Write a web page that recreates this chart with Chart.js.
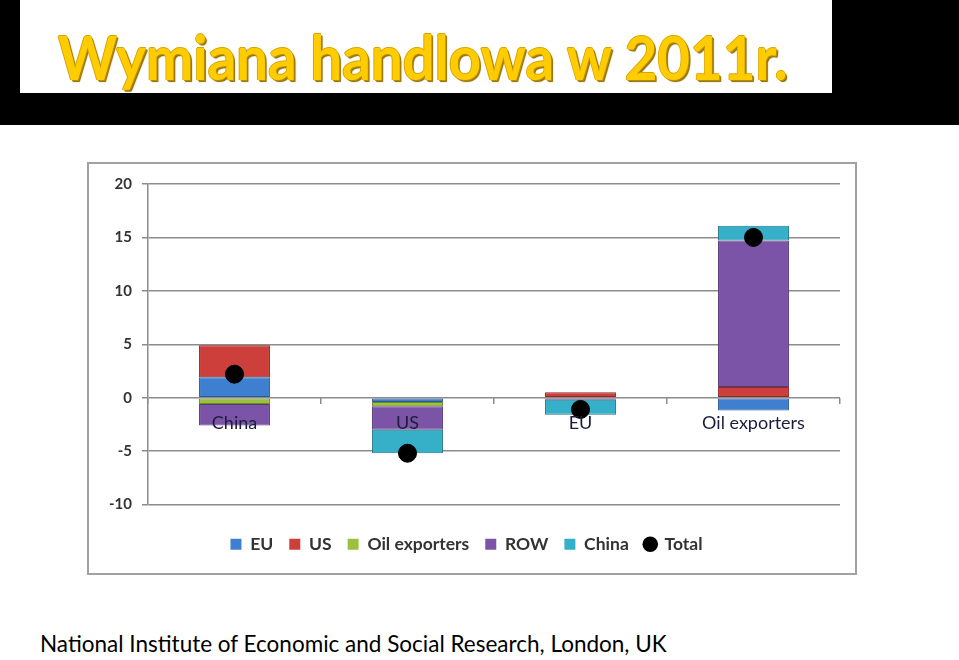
<!DOCTYPE html>
<html>
<head>
<meta charset="utf-8">
<script src="https://cdn.jsdelivr.net/npm/chart.js@4"></script>
<style>
    body { margin: 0; width: 959px; height: 660px; background: #fff; position: relative; overflow: hidden; font-family: Lato, "Open Sans", sans-serif; }
    #band { position: absolute; left: 0; top: 0; width: 959px; height: 125px; background: #000; }
    #titleBox { position: absolute; left: 20px; top: 0; width: 812px; height: 93px; background: #fff; }
    #title { position: absolute; left: 38px; top: 20px; font-family: Lato, sans-serif; font-weight: 700; font-size: 61px; color: #FFCC00; white-space: nowrap;
        transform: scaleX(0.925); transform-origin: left top;
        text-shadow: 1px 1px 0 #B88A00, -1px 0 0 #D9A400, 0 -1px 0 #D9A400, 2px 2px 1px #8a6a00; }
    #chartBox { position: absolute; left: 87px; top: 162px; width: 766px; height: 409px; border: 2px solid #a0a0a0; }
    #footer { position: absolute; left: 40px; top: 630px; font-family: Lato, sans-serif; font-size: 22.5px; color: #000; white-space: nowrap; }
</style>
</head>
<body>
<div id="band"></div>
<div id="titleBox"><div id="title">Wymiana handlowa w 2011r.</div></div>
<div id="chartBox"><canvas id="tradeChart" width="766" height="409"></canvas></div>
<div id="footer">National Institute of Economic and Social Research, London, UK</div>

<script>
// categories and balances
const categories = ['China', 'US', 'EU', 'Oil exporters'];
const euValues = [1.9, -0.4, 0, -1.2];
const usValues = [3.0, 0, 0.5, 1.0];
const oilValues = [-0.6, -0.4, 0, 0];
const rowValues = [-2.0, -2.2, -0.2, 13.7];
const chinaValues = [0, -2.2, -1.4, 1.4];
const totalValues = [2.2, -5.2, -1.1, 15.0];
const yTicks = [20, 15, 10, 5, 0, -5, -10];

function barSet(label, data, color, edge) {
    return {
        type: 'bar',
        label: label,
        data: data,
        backgroundColor: color,
        borderColor: edge,
        borderWidth: 1,
        borderSkipped: false,
        stack: 'trade',
        barPercentage: 0.41,
        categoryPercentage: 1,
        order: 2
    };
}

const ctx = document.getElementById('tradeChart').getContext('2d');
new Chart(ctx, {
    data: {
        labels: categories,
        datasets: [
            barSet('EU', euValues, '#3F7FCF', '#2a5a94'),
            barSet('US', usValues, '#CC3F3A', '#8e2a27'),
            barSet('Oil exporters', oilValues, '#9BC23E', '#6c8a2a'),
            barSet('ROW', rowValues, '#7B54A8', '#553a78'),
            barSet('China', chinaValues, '#36AFC9', '#23788b'),
            {
                type: 'line',
                label: 'Total',
                data: totalValues,
                showLine: false,
                pointRadius: 9,
                pointHoverRadius: 9,
                pointBackgroundColor: '#000',
                pointBorderColor: '#000',
                borderColor: '#000',
                backgroundColor: '#000',
                stack: 'total',
                order: 1
            }
        ]
    },
    options: {
        responsive: false,
        animation: false,
        layout: { padding: { left: 4, top: 20, right: 15, bottom: 10 } },
        plugins: {
            tooltip: { enabled: false },
            legend: {
                position: 'bottom',
                labels: {
                    usePointStyle: true,
                    boxWidth: 11,
                    boxHeight: 11,
                    padding: 16,
                    color: '#333',
                    font: { family: 'Lato', size: 17.5, weight: 'bold' },
                    sort: (a, b) => a.datasetIndex - b.datasetIndex,
                    generateLabels: chart => {
                        const items = Chart.defaults.plugins.legend.labels.generateLabels(chart);
                        items.forEach(item => {
                            item.pointStyle = item.text === 'Total' ? 'circle' : 'rect';
                            item.lineWidth = 0;
                        });
                        return items;
                    }
                }
            }
        },
        scales: {
            x: {
                position: { y: 0 },
                stacked: true,
                grid: { display: true, drawOnChartArea: false, offset: true, tickLength: 6, color: '#8c8c8c', lineWidth: 1.5 },
                border: { display: false },
                ticks: { z: 1, color: '#1c1c3c', padding: 9, font: { family: 'Lato', size: 18 } }
            },
            // empty axis that only keeps a gap between the plot and the legend
            gap: {
                type: 'category',
                position: 'bottom',
                grid: { display: false },
                border: { display: false },
                ticks: { display: false },
                afterFit: scale => { scale.height = 15; }
            },
            y: {
                stacked: true,
                min: -10,
                max: 20,
                afterFit: scale => { scale.width = 55; },
                afterBuildTicks: scale => { scale.ticks = yTicks.map(v => ({ value: v })); },
                grid: { color: '#8c8c8c', lineWidth: 1.5, tickLength: 6 },
                border: { color: '#8c8c8c', width: 1.5 },
                ticks: { color: '#333', padding: 10, font: { family: 'Lato', size: 15, weight: 'bold' } }
            }
        }
    }
});
</script>
</body>
</html>
